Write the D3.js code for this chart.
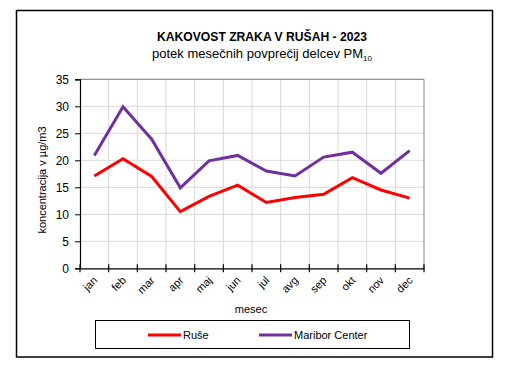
<!DOCTYPE html>
<html><head><meta charset="utf-8">
<script src="https://cdn.jsdelivr.net/npm/d3@7"></script>
<style>html,body{margin:0;padding:0;background:#fff;}svg{display:block;font-family:"Liberation Sans",Arial,sans-serif;}</style>
</head><body>
<script>
const months = ["jan","feb","mar","apr","maj","jun","jul","avg","sep","okt","nov","dec"];
const ruse = [17.1,20.3,17.0,10.5,13.3,15.4,12.2,13.1,13.7,16.8,14.5,13.0];
const maribor = [20.9,29.9,23.9,14.9,19.9,20.9,18.0,17.1,20.6,21.5,17.6,21.8];
const yTicks = [0,5,10,15,20,25,30,35];
const seriesNames = ["Ruše","Maribor Center"];
const seriesColors = ["#FF0000","#7030A0"];

const W=506,H=367;
const svg=d3.select("body").append("svg").attr("width",W).attr("height",H);
svg.append("rect").attr("x",16.5).attr("y",10.5).attr("width",476).attr("height",346.5)
  .attr("fill","#fff").attr("stroke","#000").attr("stroke-width",1.5);

const L=80,R=424,T=79.3,B=268.3;
const x=d3.scaleBand().domain(months).range([L,R]);
const y=d3.scaleLinear().domain([0,35]).range([B,T]);

// gridlines
const g=svg.append("g");
g.selectAll(".hg").data(yTicks.slice(1)).join("line")
  .attr("x1",L).attr("x2",R).attr("y1",d=>y(d)).attr("y2",d=>y(d))
  .attr("stroke","#D9D9D9").attr("stroke-width",1);
g.selectAll(".vg").data(months.slice(1)).join("line")
  .attr("x1",d=>x(d)).attr("x2",d=>x(d)).attr("y1",T).attr("y2",B)
  .attr("stroke","#D9D9D9").attr("stroke-width",1);
// plot border top/right
svg.append("path").attr("d",`M${L},${T}H${R}V${B}`).attr("fill","none").attr("stroke","#808080").attr("stroke-width",1);

// y axis
const ya=svg.append("g").attr("transform",`translate(${L},0)`)
  .call(d3.axisLeft(y).tickValues(yTicks).tickSize(5).tickPadding(6));
ya.select(".domain").attr("stroke","#000").attr("stroke-width",1.2);
ya.selectAll("text").attr("font-size",12).attr("fill","#000").attr("font-family","Liberation Sans, Arial");

// x axis
const xa=svg.append("g").attr("transform",`translate(0,${B})`)
  .call(d3.axisBottom(x).tickSize(0).tickFormat(""));
xa.select(".domain").attr("stroke","#000").attr("stroke-width",1.2);
const tickPos=months.map(m=>x(m)).concat([R]);
svg.append("g").selectAll("line").data(tickPos).join("line")
  .attr("x1",d=>d).attr("x2",d=>d).attr("y1",B-4).attr("y2",B+4)
  .attr("stroke","#000").attr("stroke-width",1.2);
svg.append("g").selectAll("text").data(months).join("text")
  .attr("transform",d=>`translate(${x(d)+x.bandwidth()/2+1},${B+10}) rotate(-45)`)
  .attr("text-anchor","end").attr("dy","0.35em")
  .attr("font-size",11).attr("fill","#000").text(d=>d);

// lines
const line=d3.line().x((d,i)=>x(months[i])+x.bandwidth()/2).y(d=>y(d));
[ruse,maribor].forEach((s,k)=>{
  svg.append("path").datum(s).attr("d",line).attr("fill","none")
    .attr("stroke",seriesColors[k]).attr("stroke-width",3).attr("stroke-linejoin","miter");
});

// titles
svg.append("text").attr("x",262).attr("y",41).attr("text-anchor","middle")
  .attr("font-size",13.5).attr("font-weight","bold").attr("fill","#000")
  .attr("textLength",210).attr("lengthAdjust","spacingAndGlyphs")
  .text("KAKOVOST ZRAKA V RUŠAH - 2023");
const st=svg.append("text").attr("x",262).attr("y",58).attr("text-anchor","middle")
  .attr("font-size",13).attr("fill","#000");
st.append("tspan").text("potek mesečnih povprečij delcev PM");
st.append("tspan").attr("font-size",8).attr("dy",3).text("10");

// axis titles
svg.append("text").attr("transform",`translate(46,180) rotate(-90)`).attr("text-anchor","middle")
  .attr("font-size",11).attr("fill","#000").text("koncentracija v µg/m3");
svg.append("text").attr("x",251).attr("y",313).attr("text-anchor","middle")
  .attr("font-size",11).attr("fill","#000").text("mesec");

// legend
svg.append("rect").attr("x",95.5).attr("y",320.5).attr("width",314).attr("height",28)
  .attr("fill","#fff").attr("stroke","#000").attr("stroke-width",1);
const legX=[148,259];
seriesNames.forEach((n,k)=>{
  svg.append("line").attr("x1",legX[k]).attr("x2",legX[k]+33).attr("y1",335).attr("y2",335)
    .attr("stroke",seriesColors[k]).attr("stroke-width",3);
  svg.append("text").attr("x",legX[k]+35).attr("y",339).attr("font-size",11).attr("fill","#000").text(n);
});
</script>
</body></html>
